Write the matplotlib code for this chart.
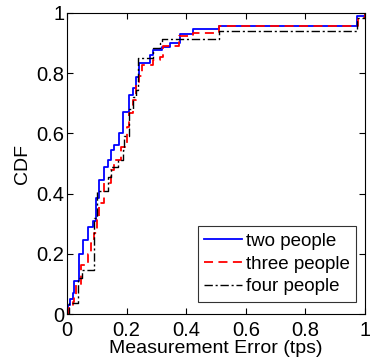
import matplotlib.pyplot as plt

plt.rcParams['font.family'] = ['Liberation Sans', 'DejaVu Sans']

# step CDFs (x = error, y = cumulative fraction)
two_x = [0, 0.005, 0.01, 0.02, 0.023, 0.04, 0.053, 0.07, 0.087, 0.097, 0.107, 0.123, 0.136,
         0.147, 0.157, 0.173, 0.187, 0.207, 0.22, 0.23, 0.24, 0.28, 0.29, 0.32, 0.347, 0.38,
         0.423, 0.51, 0.973, 1.0]
two_y = [0, 0.03, 0.05, 0.07, 0.11, 0.2, 0.245, 0.29, 0.31, 0.385, 0.445, 0.49, 0.51,
         0.545, 0.56, 0.6, 0.67, 0.727, 0.75, 0.787, 0.833, 0.86, 0.877, 0.887, 0.9, 0.93,
         0.947, 0.957, 0.99, 1.0]

three_x = [0, 0.007, 0.02, 0.025, 0.03, 0.047, 0.07, 0.08, 0.09, 0.1, 0.107, 0.123, 0.147,
           0.157, 0.18, 0.2, 0.207, 0.22, 0.23, 0.24, 0.25, 0.29, 0.313, 0.323, 0.377, 0.423,
           0.51, 0.975, 1.0]
three_y = [0, 0.02, 0.04, 0.056, 0.096, 0.163, 0.2, 0.236, 0.27, 0.32, 0.37, 0.435, 0.48,
           0.51, 0.555, 0.62, 0.667, 0.71, 0.767, 0.79, 0.827, 0.843, 0.853, 0.89, 0.925,
           0.935, 0.957, 0.985, 1.0]

four_x = [0, 0.007, 0.037, 0.05, 0.09, 0.1, 0.137, 0.147, 0.17, 0.187, 0.19, 0.207, 0.22,
          0.23, 0.237, 0.287, 0.313, 0.32, 0.51, 0.973, 1.0]
four_y = [0, 0.036, 0.12, 0.146, 0.32, 0.41, 0.455, 0.49, 0.51, 0.545, 0.59, 0.68, 0.72,
          0.745, 0.85, 0.883, 0.9, 0.913, 0.94, 0.983, 1.0]

fig = plt.figure(figsize=(3.7, 3.62), dpi=100)
ax = fig.add_axes([67 / 370, 48 / 362, 298 / 370, 301 / 362])

ax.step(two_x, two_y, where='post', color='blue', linewidth=1.3, label='two people')
ax.step(three_x, three_y, where='post', color='red', linewidth=1.3,
        linestyle=(0, (5, 3)), label='three people')
ax.step(four_x, four_y, where='post', color='black', linewidth=1.0,
        linestyle=(0, (6, 2, 1.5, 2)), label='four people')

ax.set_xlim(0, 1)
ax.set_ylim(0, 1)
ax.set_xticks([0, 0.2, 0.4, 0.6, 0.8, 1])
ax.set_xticklabels(['0', '0.2', '0.4', '0.6', '0.8', '1'])
ax.set_yticks([0, 0.2, 0.4, 0.6, 0.8, 1])
ax.set_yticklabels(['0', '0.2', '0.4', '0.6', '0.8', '1'])
ax.tick_params(axis='x', pad=5)
ax.tick_params(direction='in', top=True, right=True, labelsize=14.5, length=4)
ax.tick_params(axis='y', pad=2)
ax.set_xlabel('Measurement Error (tps)', fontsize=14, labelpad=0)
ax.set_ylabel('CDF', fontsize=14, labelpad=4)

leg = ax.legend(loc='lower right', fontsize=13.5, frameon=True, fancybox=False,
                edgecolor='black', handlelength=2.0, handletextpad=0.2,
                borderpad=0.35, labelspacing=0.3, borderaxespad=0,
                bbox_to_anchor=(0.97, 0.04))
leg.get_frame().set_linewidth(0.8)

fig.savefig('out.png', dpi=100)
